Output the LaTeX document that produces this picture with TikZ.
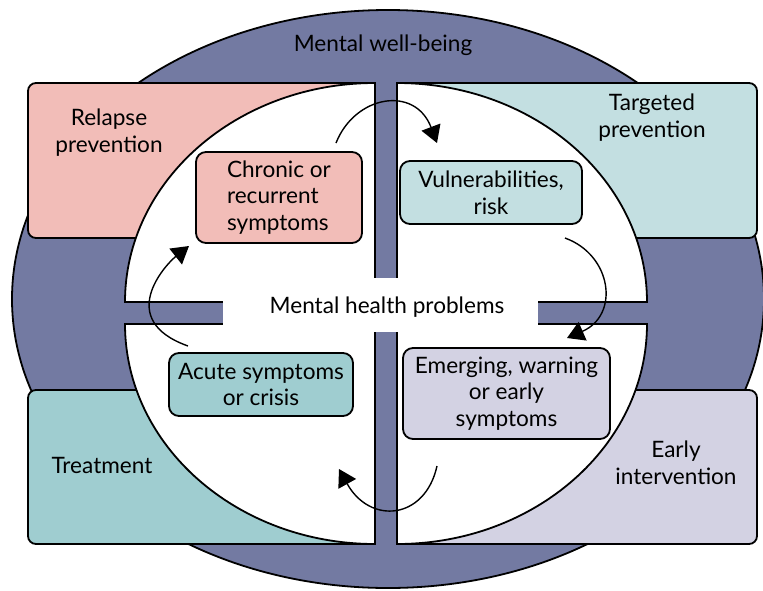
\documentclass[tikz,border=0pt]{standalone}
\usepackage{fontspec}
\setmainfont{Lato}
\usetikzlibrary{arrows.meta}
\definecolor{wellblue}{HTML}{737AA2}
\definecolor{pinkc}{HTML}{F2BDB8}
\definecolor{tealL}{HTML}{C3DFE1}
\definecolor{tealD}{HTML}{9FCDD0}
\definecolor{lavc}{HTML}{D3D2E3}
\begin{document}
\begin{tikzpicture}[x=1pt,y=1pt,
  font=\fontsize{22.6}{26.8}\selectfont,
  zone/.style={draw=black, line width=1.8pt, rounded corners=8pt},
  quad/.style={draw=black, line width=1.8pt, fill=white},
  box/.style={draw=black, line width=1.8pt, rounded corners=10pt, inner sep=0pt, align=center},
  lbl/.style={align=center, inner sep=0pt},
  cyc/.style={draw=black, line width=1.4pt, -{Triangle[length=17pt,width=20pt]}}]
\useasboundingbox (0,0) rectangle (763,-590);
% outer ellipse
\draw[fill=wellblue, draw=black, line width=1.8pt] (388,-299) ellipse [x radius=376, y radius=289];
% zone rectangles
\draw[zone, fill=pinkc] (28,-83) rectangle (375,-238);
\draw[zone, fill=tealL] (397,-83) rectangle (757,-238);
\draw[zone, fill=tealD] (28,-390) rectangle (375,-544);
\draw[zone, fill=lavc] (397,-390) rectangle (757,-544);
% quadrants
\draw[quad] (125,-302) arc[start angle=180, end angle=90, x radius=250, y radius=219] -- (375,-302) -- cycle;
\draw[quad] (397,-83) arc[start angle=90, end angle=0, x radius=250, y radius=219] -- (397,-302) -- cycle;
\draw[quad] (125,-324) arc[start angle=180, end angle=270, x radius=250, y radius=220] -- (375,-324) -- cycle;
\draw[quad] (397,-544) arc[start angle=270, end angle=360, x radius=250, y radius=220] -- (397,-324) -- cycle;
% centre label
\fill[white] (223,-278) rectangle (538,-332);
\node[lbl] (mhp) at (387,-307) {Mental health problems};
% zone labels
\node[lbl] (well) at (383,-45) {Mental well-being};
\node[lbl] (relapse) at (109,-133) {Relapse\\prevention};
\node[lbl] (targeted) at (652,-118) {Targeted\\prevention};
\node[lbl] (treat) at (102,-465) {Treatment};
\node[lbl] (early) at (676,-463) {Early\\intervention};
% inner boxes
\node[box, fill=pinkc, minimum width=166, minimum height=91, align=left] (chronic) at (279,-197.5) {Chronic or\\recurrent\\symptoms};
\node[box, fill=tealL, minimum width=182, minimum height=63] (vuln) at (491,-192.5) {Vulnerabilities,\\risk};
\node[box, fill=tealD, minimum width=184, minimum height=63] (acute) at (261,-384.5) {Acute symptoms\\or crisis};
\node[box, fill=lavc, minimum width=207, minimum height=91] (emerg) at (506.5,-393.5) {Emerging, warning\\or early\\symptoms};
% arrow end points
\coordinate (a1s) at (336,-143); \coordinate (a1e) at (437,-143);
\coordinate (a2s) at (565,-238); \coordinate (a2e) at (567,-338);
\coordinate (a3s) at (437,-466); \coordinate (a3e) at (339,-469);
\coordinate (a4s) at (188,-346); \coordinate (a4e) at (189,-246);
\draw[cyc] (a1s) .. controls (355,-95) and (415,-85) .. (a1e);
\draw[cyc] (a2s) .. controls (612,-255) and (620,-315) .. (a2e);
\draw[cyc] (a3s) .. controls (425,-520) and (370,-525) .. (a3e);
\draw[cyc] (a4s) .. controls (115,-320) and (165,-265) .. (a4e);
\end{tikzpicture}
\end{document}
